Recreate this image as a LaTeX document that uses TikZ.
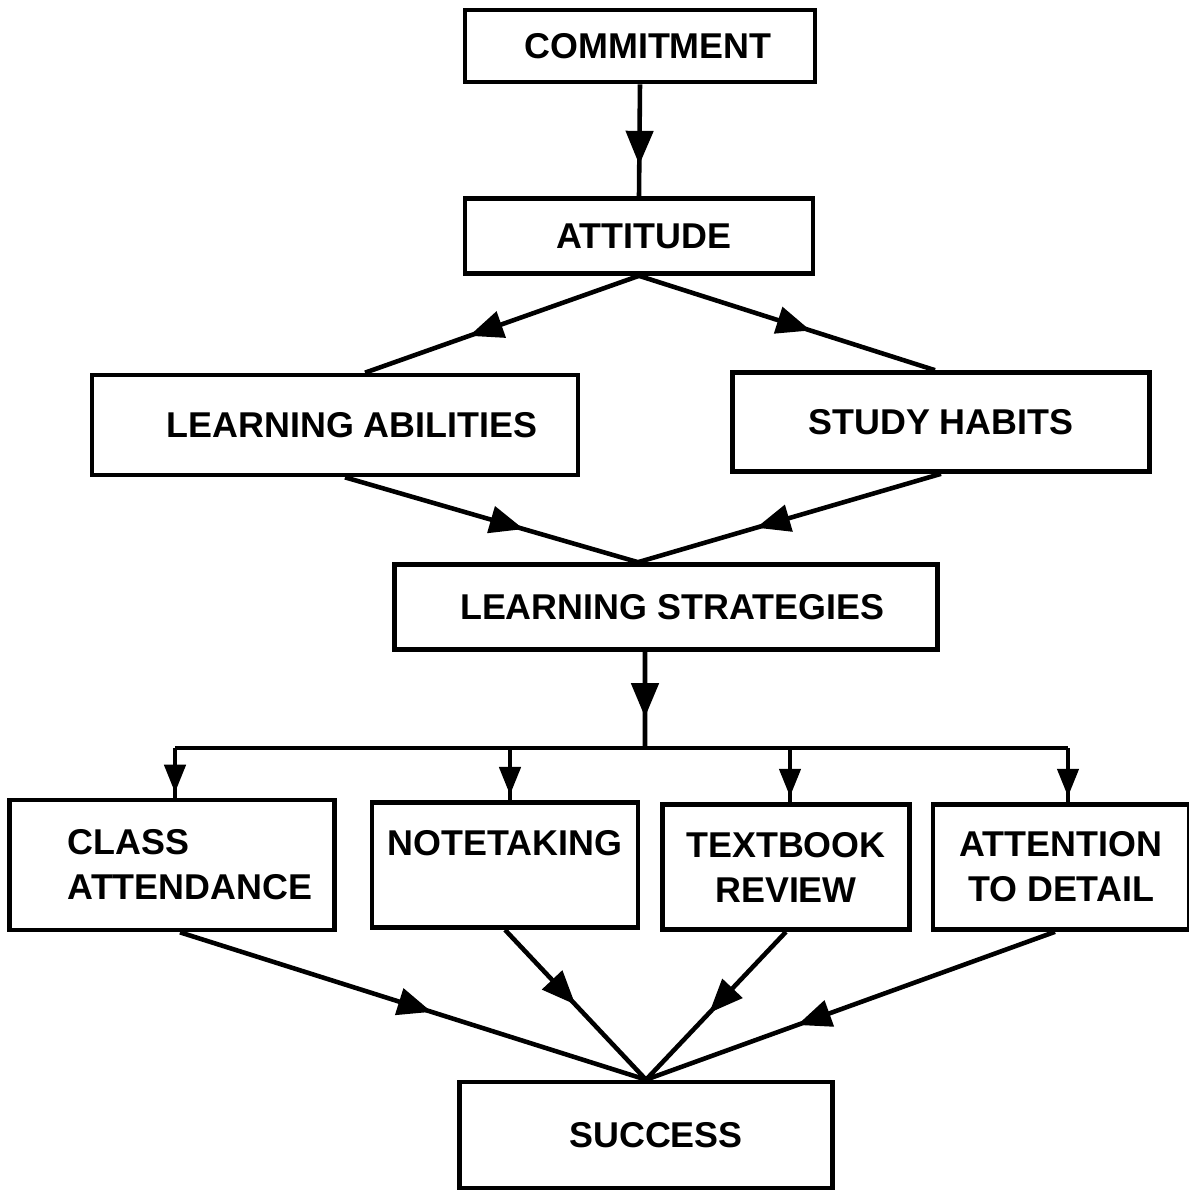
\documentclass[tikz,border=0pt]{standalone}
\usepackage{fontspec}
\setmainfont{Liberation Sans}
\usetikzlibrary{arrows.meta,decorations.markings}

\tikzset{
  box/.style={draw, line width=1.3pt, inner sep=0pt, align=center,
    font=\bfseries\fontsize{10.2}{12.8}\selectfont},
  flow/.style={line width=1.3pt, postaction={decorate},
    decoration={markings, mark=at position #1 with
      {\arrow{Triangle[length=0.34cm,width=0.27cm]}}}},
  flow/.default=0.6,
  drop/.style={line width=1.3pt, postaction={decorate},
    decoration={markings, mark=at position 0.9 with
      {\arrow{Triangle[length=0.28cm,width=0.21cm]}}}}
}

\begin{document}
\begin{tikzpicture}[x=0.01cm,y=-0.01cm]
  \useasboundingbox (0,0) rectangle (1189,1193);
  % boxes
  \node[box, minimum width=3.50cm, minimum height=0.72cm] (cmt) at (640,46) {\hspace*{0.16cm}COMMITMENT};
  \node[box, minimum width=3.48cm, minimum height=0.75cm] (att) at (639,236) {\hspace*{0.1cm}ATTITUDE};
  \node[box, minimum width=4.86cm, minimum height=1.00cm] (la) at (335,425) {\hspace*{0.34cm}LEARNING ABILITIES};
  \node[box, minimum width=4.17cm, minimum height=0.99cm] (sh) at (941,422) {STUDY HABITS};
  \node[box, minimum width=5.43cm, minimum height=0.85cm] (ls) at (666,607) {\hspace*{0.12cm}LEARNING STRATEGIES};
  \node[box, align=left, minimum width=3.25cm, minimum height=1.30cm] (ca) at (172,865)
    {\hspace*{0.36cm}CLASS\\\hspace*{0.36cm}ATTENDANCE};
  \node[box, minimum width=2.66cm, minimum height=1.25cm] (nt) at (505,865) {NOTETAKING\\\phantom{X}};
  \node[box, minimum width=2.47cm, minimum height=1.25cm] (tr) at (786,867) {TEXTBOOK\\REVIEW};
  \node[box, minimum width=2.56cm, minimum height=1.25cm] (ad) at (1061,867) {ATTENTION\\TO DETAIL};
  \node[box, minimum width=3.73cm, minimum height=1.06cm] (suc) at (646,1135) {\hspace*{0.2cm}SUCCESS};
  \coordinate (split) at (645,748);

  % top part
  \draw[flow=0.72] (cmt.south) -- (att.south |- att.north);
  \draw[flow=0.62] (att.south) -- ([xshift=0.3cm]la.north);
  \draw[flow=0.58] (att.south) -- ([xshift=-0.06cm]sh.north);
  \draw[flow=0.61] ([xshift=0.1cm]la.south) -- ([xshift=-0.28cm]ls.north);
  \draw[flow=0.61] (sh.south) -- ([xshift=-0.28cm]ls.north);

  % branch
  \draw[flow=0.68] ([xshift=-0.21cm]ls.south) -- (split);
  \draw[line width=1.3pt] ([xshift=0.03cm]ca.north |- split) -- ([xshift=0.07cm]ad.north |- split);
  \draw[drop] ([xshift=0.03cm]ca.north |- split) -- ([xshift=0.03cm]ca.north);
  \draw[drop] ([xshift=0.05cm]nt.north |- split) -- ([xshift=0.05cm]nt.north);
  \draw[drop] ([xshift=0.04cm]tr.north |- split) -- ([xshift=0.04cm]tr.north);
  \draw[drop] ([xshift=0.07cm]ad.north |- split) -- ([xshift=0.07cm]ad.north);

  % bottom part
  \draw[flow=0.54] ([xshift=0.08cm]ca.south) -- (suc.north);
  \draw[flow=0.50] (nt.south) -- (suc.north);
  \draw[flow=0.55] (tr.south) -- (suc.north);
  \draw[flow=0.63] ([xshift=-0.06cm]ad.south) -- (suc.north);
\end{tikzpicture}
\end{document}
